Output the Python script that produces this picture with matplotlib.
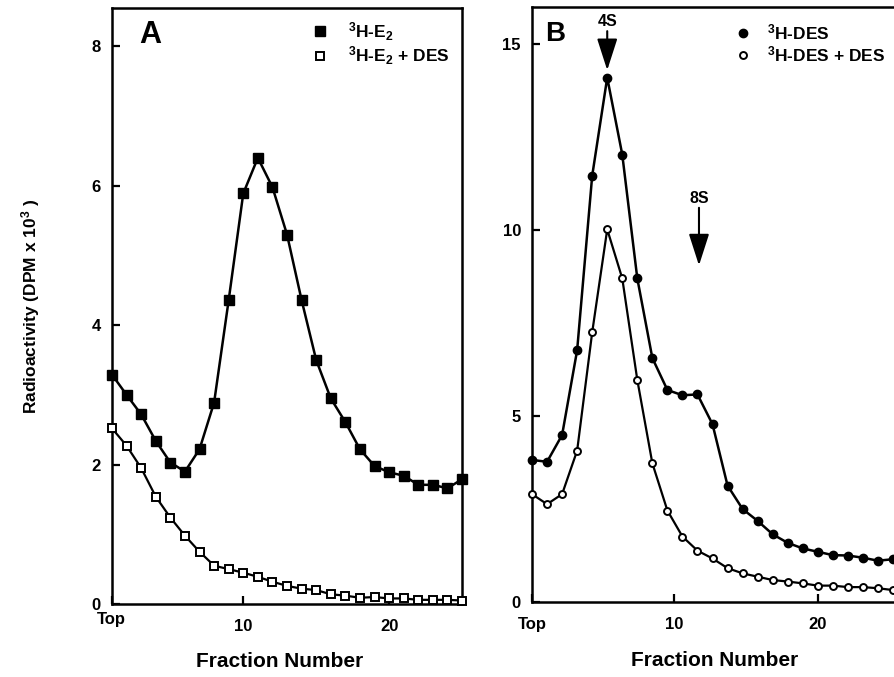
import numpy as np
import matplotlib
matplotlib.use("Agg")
import matplotlib.pyplot as plt
import matplotlib.transforms as mtransforms
from matplotlib.lines import Line2D

plt.rcParams['font.family'] = ['Liberation Sans', 'DejaVu Sans']
plt.rcParams['font.weight'] = 'bold'
plt.rcParams['mathtext.fontset'] = 'custom'
plt.rcParams['mathtext.rm'] = 'Liberation Sans:bold'
plt.rcParams['mathtext.bf'] = 'Liberation Sans:bold'
plt.rcParams['mathtext.default'] = 'bf'

# ---- data ----
fractions = np.arange(1, 26)

# panel A: 3H-E2 with / without excess DES
e2_total = [3.29, 3.00, 2.72, 2.34, 2.03, 1.90, 2.22, 2.89, 4.36, 5.89,
            6.40, 5.98, 5.30, 4.36, 3.50, 2.95, 2.61, 2.22, 1.98, 1.89,
            1.84, 1.71, 1.71, 1.66, 1.79]
e2_des = [2.52, 2.27, 1.95, 1.54, 1.24, 0.98, 0.75, 0.55, 0.50, 0.45,
          0.39, 0.32, 0.26, 0.22, 0.20, 0.14, 0.12, 0.09, 0.10, 0.08,
          0.08, 0.06, 0.06, 0.06, 0.05]

# panel B: 3H-DES with / without excess DES
des_total = [3.82, 3.77, 4.49, 6.77, 11.46, 14.10, 12.03, 8.70, 6.56, 5.70,
             5.56, 5.58, 4.78, 3.13, 2.50, 2.18, 1.82, 1.59, 1.44, 1.35,
             1.26, 1.25, 1.19, 1.11, 1.15]
des_des = [2.90, 2.63, 2.90, 4.07, 7.25, 10.02, 8.70, 5.97, 3.73, 2.46,
           1.76, 1.38, 1.17, 0.91, 0.77, 0.68, 0.59, 0.55, 0.50, 0.44,
           0.44, 0.40, 0.40, 0.37, 0.32]

labels_a = ['$^3$H-E$_2$', '$^3$H-E$_2$ + DES']
labels_b = ['$^3$H-DES', '$^3$H-DES + DES']

# sedimentation markers: (label, fraction, value at arrow tail, tip)
markers_b = [('4S', 6.0, 15.35, 14.30), ('8S', 12.1, 10.60, 9.05)]


def style_axes(ax):
    for s in ax.spines.values():
        s.set_linewidth(1.8)
    ax.tick_params(direction='in', length=6, width=1.6, labelsize=12,
                   pad=8)
    for lab in ax.get_xticklabels() + ax.get_yticklabels():
        lab.set_fontweight('bold')


fig = plt.figure(figsize=(8.94, 6.77), dpi=100)

# ---- panel A ----
axA = fig.add_axes([0.1253, 0.1078, 0.3915, 0.8804])
axA.plot(fractions, e2_total, '-s', color='k', lw=1.8, ms=6.5,
         mfc='k', mec='k', clip_on=False, zorder=3)
axA.plot(fractions, e2_des, '-s', color='k', lw=1.6, ms=5.5,
         mfc='white', mec='k', mew=1.4, clip_on=False, zorder=3)
axA.set_xlim(1, 25)
axA.set_ylim(0, 8.55)
axA.set_yticks([0, 2, 4, 6, 8])
axA.set_xticks([1, 10, 20])
axA.set_xticklabels(['Top', '10', '20'])
style_axes(axA)
axA.tick_params(axis='x', pad=11)
# 'Top' sits a little higher than the other labels
top_lab = axA.get_xticklabels()[0]
top_lab.set_transform(top_lab.get_transform() +
                      mtransforms.ScaledTranslation(-0.01, 0.07, fig.dpi_scale_trans))
axA.set_xlabel('Fraction Number', fontsize=15, fontweight='bold')
axA.xaxis.set_label_coords(0.478, -0.08)
axA.set_ylabel('Radioactivity (DPM x 10$^3$ )', fontsize=12.5,
               fontweight='bold', labelpad=36)
axA.text(0.11, 0.955, 'A', transform=axA.transAxes, fontsize=22,
         fontweight='bold', ha='center', va='center')
handles_a = [Line2D([], [], marker='s', ls='none', color='k', ms=6.5),
             Line2D([], [], marker='s', ls='none', mfc='white', mec='k',
                    mew=1.4, ms=5.5)]
axA.legend(handles_a, labels_a, loc='upper left', bbox_to_anchor=(0.545, 1.0),
           frameon=False, fontsize=12.5, handlelength=0.6, handletextpad=1.3,
           labelspacing=0.12, borderaxespad=0.3)

# ---- panel B ----
axB = fig.add_axes([0.5951, 0.1108, 0.4038, 0.8789])
axB.plot(fractions, des_total, '-o', color='k', lw=1.8, ms=6,
         mfc='k', mec='k', clip_on=False, zorder=3)
axB.plot(fractions, des_des, '-o', color='k', lw=1.6, ms=5,
         mfc='white', mec='k', mew=1.4, clip_on=False, zorder=3)
axB.set_xlim(1, 25)
axB.set_ylim(0, 16.0)
axB.set_yticks([0, 5, 10, 15])
# the '10' tick in the original sits between fractions 10 and 11
axB.set_xticks([1, 10.45, 20])
axB.set_xticklabels(['Top', '10', '20'])
style_axes(axB)
axB.tick_params(axis='x', pad=11)
axB.spines['right'].set_visible(False)
axB.set_xlabel('Fraction Number', fontsize=15, fontweight='bold')
axB.xaxis.set_label_coords(0.505, -0.083)
axB.text(0.065, 0.955, 'B', transform=axB.transAxes, fontsize=20,
         fontweight='bold', ha='center', va='center')
for name, fx, y0, y1 in markers_b:
    axB.annotate('', xy=(fx, y1), xytext=(fx, y0),
                 arrowprops=dict(arrowstyle='-|>,head_length=1.4,head_width=0.45',
                                 color='k', lw=1.5, shrinkA=0, shrinkB=0,
                                 mutation_scale=14))
    axB.text(fx, y0 + 0.05, name, ha='center', va='bottom', fontsize=11.5,
             fontweight='bold')
handles_b = [Line2D([], [], marker='o', ls='none', color='k', ms=6),
             Line2D([], [], marker='o', ls='none', mfc='white', mec='k',
                    mew=1.4, ms=5)]
axB.legend(handles_b, labels_b, loc='upper left', bbox_to_anchor=(0.535, 0.995),
           frameon=False, fontsize=12.5, handlelength=0.6, handletextpad=1.1,
           labelspacing=0.15, borderaxespad=0.3)

fig.savefig('out.png', dpi=100)
